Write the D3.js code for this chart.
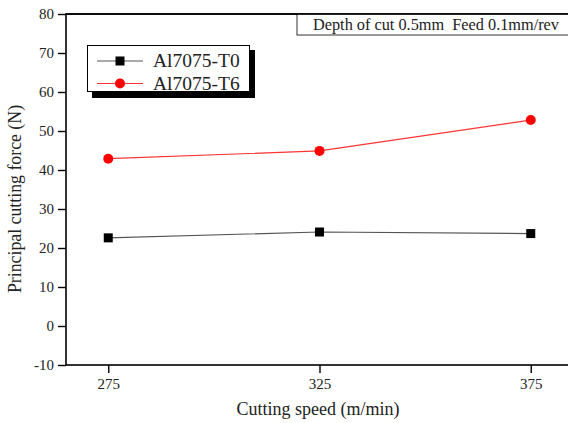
<!DOCTYPE html>
<html><head><meta charset="utf-8">
<script src="https://cdn.jsdelivr.net/npm/d3@7"></script>
<style>body{margin:0;background:#fff}svg{display:block;font-family:"Liberation Serif","Times New Roman",serif}</style>
</head><body>
<svg id="c" width="568" height="423"></svg>
<script>
const speeds = [275, 325, 375];
const t0 = [22.6, 24.1, 23.7];
const t6 = [42.9, 44.9, 52.8];
const seriesNames = ["Al7075-T0", "Al7075-T6"];
const yTicks = [-10, 0, 10, 20, 30, 40, 50, 60, 70, 80];
const xTicks = [275, 325, 375];

const svg = d3.select("#c");
const L = 66, T = 14, B = 365, R = 573;
const x = d3.scaleLinear().domain([265, 385]).range([L, R]);
const y = d3.scaleLinear().domain([-10, 80]).range([B, T]);

// frame
svg.append("rect").attr("x", L).attr("y", T).attr("width", R - L + 5).attr("height", B - T)
  .attr("fill", "none").attr("stroke", "#000").attr("stroke-width", 1.6);

const yAxis = svg.append("g").attr("transform", `translate(${L},0)`)
  .call(d3.axisLeft(y).tickValues(yTicks).tickSize(8).tickPadding(4).tickFormat(d => String(d)));
const xAxis = svg.append("g").attr("transform", `translate(0,${B})`)
  .call(d3.axisBottom(x).tickValues(xTicks).tickSize(8).tickPadding(5).tickFormat(d => String(d)));
[yAxis, xAxis].forEach(a => {
  a.attr("font-family", null).attr("font-size", null);
  a.select(".domain").remove();
  a.selectAll(".tick line").attr("stroke", "#000").attr("stroke-width", 1.4);
  a.selectAll("text").attr("font-size", 15).attr("fill", "#222");
});

svg.append("text").attr("x", 318).attr("y", 415).attr("text-anchor", "middle")
  .attr("font-size", 18).attr("fill", "#222").text("Cutting speed (m/min)");
svg.append("text").attr("transform", "translate(21,199) rotate(-90)").attr("text-anchor", "middle")
  .attr("font-size", 17.8).attr("fill", "#222").text("Principal cutting force (N)");

// annotation box
svg.append("rect").attr("x", 297).attr("y", T).attr("width", 290).attr("height", 21)
  .attr("fill", "#fff").attr("stroke", "#333").attr("stroke-width", 1);
svg.append("line").attr("x1", L).attr("x2", 570).attr("y1", T).attr("y2", T).attr("stroke", "#000").attr("stroke-width", 1.6);
svg.append("text").attr("x", 313).attr("y", 30).attr("font-size", 16.3).attr("fill", "#222")
  .style("white-space", "pre").text("Depth of cut 0.5mm  Feed 0.1mm/rev");

const line = d3.line().x((d, i) => x(speeds[i])).y(d => y(d));
svg.append("path").datum(t0).attr("d", line).attr("fill", "none").attr("stroke", "#555").attr("stroke-width", 1.2);
svg.append("path").datum(t6).attr("d", line).attr("fill", "none").attr("stroke", "#f33").attr("stroke-width", 1.2);
svg.selectAll(".sq").data(t0).enter().append("rect")
  .attr("x", (d, i) => x(speeds[i]) - 4.5).attr("y", d => y(d) - 4.5)
  .attr("width", 9).attr("height", 9).attr("fill", "#000");
svg.selectAll(".ci").data(t6).enter().append("circle")
  .attr("cx", (d, i) => x(speeds[i])).attr("cy", d => y(d)).attr("r", 5).attr("fill", "#f00");

// legend
const lg = svg.append("g");
lg.append("rect").attr("x", 92).attr("y", 50).attr("width", 163).attr("height", 48).attr("fill", "#000");
lg.append("rect").attr("x", 87.5).attr("y", 45.5).attr("width", 162).attr("height", 46)
  .attr("fill", "#fff").attr("stroke", "#000").attr("stroke-width", 1);
const rows = [{c: "#555", m: "sq"}, {c: "#f33", m: "ci"}];
rows.forEach((r, i) => {
  const yy = 61 + i * 22.5;
  lg.append("line").attr("x1", 97).attr("x2", 143).attr("y1", yy).attr("y2", yy).attr("stroke", r.c).attr("stroke-width", 1.2);
  if (r.m === "sq") lg.append("rect").attr("x", 115.5).attr("y", yy - 4.5).attr("width", 9).attr("height", 9).attr("fill", "#000");
  else lg.append("circle").attr("cx", 120).attr("cy", yy).attr("r", 5).attr("fill", "#f00");
  lg.append("text").attr("x", 153).attr("y", yy + 6).attr("font-size", 19.5).attr("fill", "#222").text(seriesNames[i]);
});
</script>
</body></html>
